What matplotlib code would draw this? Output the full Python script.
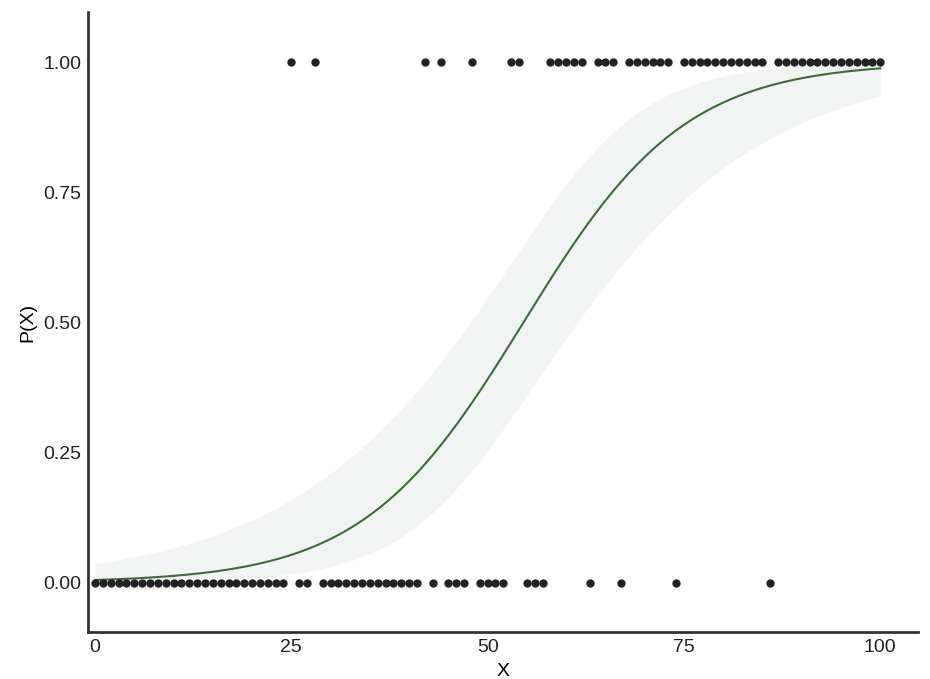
import numpy as np
import matplotlib.pyplot as plt

plt.rcParams['font.family'] = ['Liberation Sans', 'DejaVu Sans']

# 观测数据: x = 0..100, y 为 0/1
x_vals = np.arange(0, 101)
ones_at = [25, 28, 42, 44, 48, 53, 54, 58, 59, 60, 61, 62, 64, 65, 66,
           68, 69, 70, 71, 72, 73] + list(range(75, 86)) + list(range(87, 101))
y_vals = np.array([1 if v in ones_at else 0 for v in x_vals])

y_ticks = [0.00, 0.25, 0.50, 0.75, 1.00]
x_ticks = [0, 25, 50, 75, 100]


def fit_logistic(x, y, n_iter=50):
    X = np.column_stack([np.ones_like(x, dtype=float), x.astype(float)])
    beta = np.zeros(2)
    for _ in range(n_iter):
        p = 1 / (1 + np.exp(-X @ beta))
        W = p * (1 - p)
        H = X.T @ (X * W[:, None])
        beta = beta + np.linalg.solve(H, X.T @ (y - p))
    p = 1 / (1 + np.exp(-X @ beta))
    H = X.T @ (X * (p * (1 - p))[:, None])
    return beta, np.linalg.inv(H)


beta, cov = fit_logistic(x_vals, y_vals)
grid = np.linspace(0, 100, 300)
G = np.column_stack([np.ones_like(grid), grid])
eta = G @ beta
se = np.sqrt(np.einsum('ij,jk,ik->i', G, cov, G))
p_hat = 1 / (1 + np.exp(-eta))
lo = 1 / (1 + np.exp(-(eta - 1.96 * se)))
hi = 1 / (1 + np.exp(-(eta + 1.96 * se)))

fig = plt.figure(figsize=(9.3, 6.79), dpi=100)
ax = fig.add_axes([0.0946, 0.0692, 0.8924, 0.9128])

ax.fill_between(grid, lo, hi, color='#f2f4f3', lw=0, zorder=1)
ax.plot(grid, p_hat, color='#3f6a3a', lw=1.5, zorder=2)
ax.scatter(x_vals, y_vals, s=36, color='#222222', lw=0, zorder=3)

ax.set_xlim(-0.9, 104.8)
ax.set_ylim(-0.095, 1.096)
ax.set_xticks(x_ticks)
ax.set_yticks(y_ticks)
ax.set_yticklabels([f'{v:.2f}' for v in y_ticks])
ax.tick_params(length=0, labelsize=14, colors='#222222', pad=5)
ax.set_xlabel('X', fontsize=14, labelpad=5)
ax.set_ylabel('P(X)', fontsize=14, labelpad=5)

for side in ['top', 'right']:
    ax.spines[side].set_visible(False)
for side in ['left', 'bottom']:
    ax.spines[side].set_linewidth(2)
    ax.spines[side].set_color('#333333')

fig.savefig('out.png', dpi=100)
